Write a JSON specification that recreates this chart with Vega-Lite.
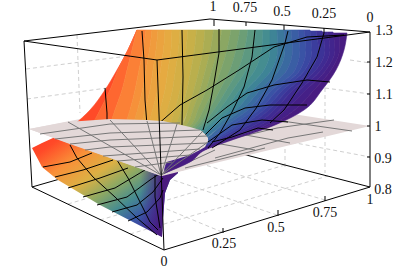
{"$schema":"https://vega.github.io/schema/vega-lite/v6.json","width":417,"height":271,"padding":0,"autosize":"none","background":"white","view":{"stroke":null},
"encoding":{"x":{"field":"x","type":"quantitative","scale":{"domain":[0,417],"nice":false,"zero":false},"axis":null},"y":{"field":"y","type":"quantitative","scale":{"domain":[271,0],"nice":false,"zero":false},"axis":null}},
"datasets":{
"grid":[{"id":1,"x":26,"y":69},{"id":1,"x":120,"y":57},{"id":2,"x":27,"y":99},{"id":2,"x":107,"y":88},{"id":3,"x":77,"y":35},{"id":3,"x":80,"y":113},{"id":4,"x":350,"y":60},{"id":4,"x":370,"y":63},{"id":5,"x":325,"y":88},{"id":5,"x":370,"y":94},{"id":6,"x":325,"y":88},{"id":6,"x":325,"y":120},{"id":7,"x":285,"y":141},{"id":7,"x":370,"y":157},{"id":8,"x":325,"y":135},{"id":8,"x":325,"y":173},{"id":9,"x":285,"y":142},{"id":9,"x":285,"y":167},{"id":10,"x":222,"y":232},{"id":10,"x":80,"y":173},{"id":11,"x":277,"y":215},{"id":11,"x":120,"y":162},{"id":12,"x":325,"y":200},{"id":12,"x":157,"y":151},{"id":13,"x":130,"y":234},{"id":13,"x":328,"y":176},{"id":14,"x":100,"y":220},{"id":14,"x":285,"y":165},{"id":15,"x":68,"y":204},{"id":15,"x":240,"y":153}],
"back":[{"id":1,"x":24,"y":41},{"id":1,"x":210,"y":19},{"id":1,"x":370,"y":32},{"id":2,"x":24,"y":41},{"id":2,"x":32,"y":187},{"id":3,"x":32,"y":187},{"id":3,"x":192,"y":141},{"id":3,"x":370,"y":187},{"id":4,"x":370,"y":32},{"id":4,"x":370,"y":187}],
"front":[{"id":1,"x":24,"y":41},{"id":1,"x":157,"y":60},{"id":1,"x":370,"y":32},{"id":2,"x":157,"y":60},{"id":2,"x":164,"y":250},{"id":3,"x":32,"y":187},{"id":3,"x":164,"y":250},{"id":3,"x":370,"y":187},{"id":4,"x":214,"y":20},{"id":4,"x":214,"y":26},{"id":5,"x":246,"y":22},{"id":5,"x":246,"y":26},{"id":6,"x":284,"y":25},{"id":6,"x":284,"y":30},{"id":7,"x":324,"y":28},{"id":7,"x":324,"y":33},{"id":8,"x":367,"y":62},{"id":8,"x":370,"y":62},{"id":9,"x":367,"y":94},{"id":9,"x":370,"y":94},{"id":10,"x":367,"y":126},{"id":10,"x":370,"y":126},{"id":11,"x":367,"y":157},{"id":11,"x":370,"y":157},{"id":12,"x":325,"y":196},{"id":12,"x":325,"y":201},{"id":13,"x":278,"y":210},{"id":13,"x":278,"y":216},{"id":14,"x":223,"y":228},{"id":14,"x":223,"y":233}],
"lowerMesh":[{"id":1,"x":70,"y":145},{"id":1,"x":77,"y":158},{"id":1,"x":93,"y":177},{"id":1,"x":115,"y":197},{"id":1,"x":137,"y":218},{"id":1,"x":157,"y":235},{"id":2,"x":117,"y":160},{"id":2,"x":128,"y":178},{"id":2,"x":140,"y":202},{"id":2,"x":150,"y":222},{"id":2,"x":158,"y":230},{"id":3,"x":155,"y":175},{"id":3,"x":155,"y":197},{"id":3,"x":158,"y":215},{"id":3,"x":160,"y":228},{"id":4,"x":43,"y":167},{"id":4,"x":70,"y":162},{"id":4,"x":92,"y":153},{"id":5,"x":55,"y":177},{"id":5,"x":83,"y":170},{"id":5,"x":113,"y":160},{"id":6,"x":68,"y":188},{"id":6,"x":100,"y":178},{"id":6,"x":128,"y":168},{"id":7,"x":83,"y":197},{"id":7,"x":115,"y":188},{"id":7,"x":145,"y":170},{"id":8,"x":97,"y":205},{"id":8,"x":127,"y":197},{"id":8,"x":150,"y":180},{"id":8,"x":162,"y":172},{"id":9,"x":112,"y":212},{"id":9,"x":137,"y":205},{"id":9,"x":153,"y":192},{"id":9,"x":163,"y":178},{"id":10,"x":128,"y":221},{"id":10,"x":147,"y":212},{"id":10,"x":160,"y":198},{"id":10,"x":163,"y":190}],
"farMesh":[{"id":1,"x":205,"y":145},{"id":1,"x":277,"y":128},{"id":1,"x":334,"y":120},{"id":2,"x":215,"y":158},{"id":2,"x":288,"y":138},{"id":2,"x":323,"y":132},{"id":3,"x":185,"y":168},{"id":3,"x":265,"y":148},{"id":4,"x":275,"y":120},{"id":4,"x":352,"y":131},{"id":5,"x":240,"y":134},{"id":5,"x":290,"y":143},{"id":6,"x":215,"y":143},{"id":6,"x":255,"y":150},{"id":7,"x":161,"y":175},{"id":7,"x":215,"y":150}],
"upperMesh":[{"id":1,"x":105,"y":88},{"id":1,"x":107,"y":113},{"id":1,"x":107,"y":125},{"id":2,"x":142,"y":31},{"id":2,"x":144,"y":60},{"id":2,"x":145,"y":100},{"id":2,"x":147,"y":125},{"id":4,"x":182,"y":30},{"id":4,"x":183,"y":77},{"id":4,"x":182,"y":125},{"id":5,"x":219,"y":29},{"id":5,"x":219,"y":53},{"id":5,"x":214,"y":83},{"id":5,"x":209,"y":110},{"id":5,"x":203,"y":130},{"id":6,"x":255,"y":30},{"id":6,"x":252,"y":57},{"id":6,"x":244,"y":87},{"id":6,"x":232,"y":112},{"id":6,"x":220,"y":133},{"id":6,"x":208,"y":148},{"id":7,"x":288,"y":31},{"id":7,"x":285,"y":43},{"id":7,"x":272,"y":80},{"id":7,"x":257,"y":107},{"id":7,"x":240,"y":130},{"id":7,"x":212,"y":148},{"id":8,"x":324,"y":33},{"id":8,"x":317,"y":57},{"id":8,"x":302,"y":83},{"id":8,"x":284,"y":110},{"id":8,"x":270,"y":123},{"id":9,"x":157,"y":125},{"id":9,"x":180,"y":105},{"id":9,"x":207,"y":90},{"id":9,"x":239,"y":70},{"id":9,"x":274,"y":47},{"id":9,"x":307,"y":37},{"id":9,"x":344,"y":35},{"id":10,"x":207,"y":123},{"id":10,"x":227,"y":107},{"id":10,"x":247,"y":93},{"id":10,"x":274,"y":85},{"id":10,"x":307,"y":80},{"id":10,"x":330,"y":82},{"id":11,"x":205,"y":135},{"id":11,"x":222,"y":118},{"id":11,"x":245,"y":108},{"id":11,"x":270,"y":105},{"id":11,"x":307,"y":105},{"id":12,"x":208,"y":142},{"id":12,"x":232,"y":125},{"id":12,"x":262,"y":120},{"id":12,"x":288,"y":122},{"id":13,"x":212,"y":142},{"id":13,"x":232,"y":137},{"id":13,"x":258,"y":128},{"id":13,"x":273,"y":130}],
"bowlMesh":[{"id":1,"x":40,"y":134},{"id":1,"x":110,"y":124},{"id":1,"x":180,"y":123},{"id":2,"x":55,"y":139},{"id":2,"x":110,"y":133},{"id":2,"x":200,"y":130},{"id":3,"x":70,"y":144},{"id":3,"x":110,"y":140},{"id":3,"x":207,"y":136},{"id":4,"x":85,"y":150},{"id":4,"x":110,"y":147},{"id":4,"x":207,"y":143},{"id":5,"x":103,"y":156},{"id":5,"x":200,"y":149},{"id":6,"x":118,"y":161},{"id":6,"x":190,"y":155},{"id":7,"x":135,"y":167},{"id":7,"x":172,"y":162},{"id":8,"x":161,"y":175},{"id":8,"x":68,"y":122},{"id":9,"x":161,"y":175},{"id":9,"x":110,"y":120},{"id":10,"x":161,"y":175},{"id":10,"x":147,"y":121},{"id":11,"x":161,"y":175},{"id":11,"x":177,"y":124},{"id":12,"x":161,"y":175},{"id":12,"x":203,"y":131},{"id":13,"x":161,"y":175},{"id":13,"x":208,"y":142}],
"labels":[{"t":"1","x":213,"y":7},{"t":"0.75","x":245,"y":8},{"t":"0.5","x":282,"y":12},{"t":"0.25","x":324,"y":14},{"t":"0","x":370,"y":18},{"t":"1.3","x":384,"y":31},{"t":"1.2","x":384,"y":63},{"t":"1.1","x":384,"y":95},{"t":"1","x":378,"y":127},{"t":"0.9","x":383,"y":159},{"t":"0.8","x":383,"y":190},{"t":"1","x":370,"y":200},{"t":"0.75","x":325,"y":213},{"t":"0.5","x":276,"y":228},{"t":"0.25","x":224,"y":244},{"t":"0","x":164,"y":262}],
"strips":[
{"k":0.5,"y":30,"a":137,"b":137},{"k":0.5,"y":50,"a":128,"b":128},{"k":0.5,"y":70,"a":117,"b":118},{"k":0.5,"y":90,"a":105,"b":110},{"k":0.5,"y":110,"a":90,"b":100},{"k":0.5,"y":125,"a":74,"b":92},
{"k":1.5,"y":30,"a":137,"b":137},{"k":1.5,"y":50,"a":128,"b":132},{"k":1.5,"y":70,"a":118,"b":127},{"k":1.5,"y":90,"a":110,"b":122},{"k":1.5,"y":110,"a":100,"b":115},{"k":1.5,"y":125,"a":92,"b":110},
{"k":2.5,"y":30,"a":137,"b":146},{"k":2.5,"y":50,"a":132,"b":143},{"k":2.5,"y":70,"a":127,"b":139},{"k":2.5,"y":90,"a":122,"b":135},{"k":2.5,"y":110,"a":115,"b":130},{"k":2.5,"y":125,"a":110,"b":125},
{"k":3.25,"y":30,"a":146,"b":152},{"k":3.25,"y":50,"a":143,"b":149.5},{"k":3.25,"y":70,"a":139,"b":146},{"k":3.25,"y":90,"a":135,"b":142.5},{"k":3.25,"y":110,"a":130,"b":137.5},{"k":3.25,"y":125,"a":125,"b":133},
{"k":3.75,"y":30,"a":152,"b":158},{"k":3.75,"y":50,"a":149.5,"b":156},{"k":3.75,"y":70,"a":146,"b":153},{"k":3.75,"y":90,"a":142.5,"b":150},{"k":3.75,"y":110,"a":137.5,"b":145},{"k":3.75,"y":125,"a":133,"b":141},
{"k":4.25,"y":30,"a":158,"b":165},{"k":4.25,"y":50,"a":156,"b":163.5},{"k":4.25,"y":70,"a":153,"b":160.5},{"k":4.25,"y":90,"a":150,"b":157.5},{"k":4.25,"y":110,"a":145,"b":152.5},{"k":4.25,"y":125,"a":141,"b":148.5},
{"k":4.75,"y":30,"a":165,"b":172},{"k":4.75,"y":50,"a":163.5,"b":171},{"k":4.75,"y":70,"a":160.5,"b":168},{"k":4.75,"y":90,"a":157.5,"b":165},{"k":4.75,"y":110,"a":152.5,"b":160},{"k":4.75,"y":125,"a":148.5,"b":156},
{"k":5.25,"y":30,"a":172,"b":180},{"k":5.25,"y":50,"a":171,"b":178.5},{"k":5.25,"y":70,"a":168,"b":175.5},{"k":5.25,"y":90,"a":165,"b":172.5},{"k":5.25,"y":110,"a":160,"b":167.5},{"k":5.25,"y":125,"a":156,"b":163},
{"k":5.75,"y":30,"a":180,"b":188},{"k":5.75,"y":50,"a":178.5,"b":186},{"k":5.75,"y":70,"a":175.5,"b":183},{"k":5.75,"y":90,"a":172.5,"b":180},{"k":5.75,"y":110,"a":167.5,"b":175},{"k":5.75,"y":125,"a":163,"b":170},
{"k":6.25,"y":30,"a":188,"b":196.5},{"k":6.25,"y":50,"a":186,"b":194.5},{"k":6.25,"y":70,"a":183,"b":191},{"k":6.25,"y":90,"a":180,"b":187},{"k":6.25,"y":110,"a":175,"b":181.5},{"k":6.25,"y":125,"a":170,"b":176},
{"k":6.75,"y":30,"a":196.5,"b":205},{"k":6.75,"y":50,"a":194.5,"b":203},{"k":6.75,"y":70,"a":191,"b":199},{"k":6.75,"y":90,"a":187,"b":194},{"k":6.75,"y":110,"a":181.5,"b":188},{"k":6.75,"y":125,"a":176,"b":182},
{"k":7.25,"y":30,"a":205,"b":213.5},{"k":7.25,"y":50,"a":203,"b":210.5},{"k":7.25,"y":70,"a":199,"b":205.5},{"k":7.25,"y":90,"a":194,"b":200},{"k":7.25,"y":110,"a":188,"b":193},{"k":7.25,"y":125,"a":182,"b":186.5},{"k":7.25,"y":140,"a":165,"b":167.5},
{"k":7.75,"y":30,"a":213.5,"b":222},{"k":7.75,"y":50,"a":210.5,"b":218},{"k":7.75,"y":70,"a":205.5,"b":212},{"k":7.75,"y":90,"a":200,"b":206},{"k":7.75,"y":110,"a":193,"b":198},{"k":7.75,"y":125,"a":186.5,"b":191},{"k":7.75,"y":140,"a":167.5,"b":170},
{"k":8.25,"y":30,"a":222,"b":231},{"k":8.25,"y":50,"a":218,"b":227},{"k":8.25,"y":70,"a":212,"b":221},{"k":8.25,"y":90,"a":206,"b":213},{"k":8.25,"y":110,"a":198,"b":203.5},{"k":8.25,"y":125,"a":191,"b":194.5},{"k":8.25,"y":140,"a":170,"b":174},
{"k":8.75,"y":30,"a":231,"b":240},{"k":8.75,"y":50,"a":227,"b":236},{"k":8.75,"y":70,"a":221,"b":230},{"k":8.75,"y":90,"a":213,"b":220},{"k":8.75,"y":110,"a":203.5,"b":209},{"k":8.75,"y":125,"a":194.5,"b":198},{"k":8.75,"y":140,"a":174,"b":178},
{"k":9.25,"y":30,"a":240,"b":248},{"k":9.25,"y":50,"a":236,"b":244.5},{"k":9.25,"y":70,"a":230,"b":238},{"k":9.25,"y":90,"a":220,"b":226.5},{"k":9.25,"y":110,"a":209,"b":214},{"k":9.25,"y":125,"a":198,"b":201.5},{"k":9.25,"y":140,"a":178,"b":182},
{"k":9.75,"y":30,"a":248,"b":256},{"k":9.75,"y":50,"a":244.5,"b":253},{"k":9.75,"y":70,"a":238,"b":246},{"k":9.75,"y":90,"a":226.5,"b":233},{"k":9.75,"y":110,"a":214,"b":219},{"k":9.75,"y":125,"a":201.5,"b":205},{"k":9.75,"y":140,"a":182,"b":186},
{"k":10.25,"y":30,"a":256,"b":263},{"k":10.25,"y":50,"a":253,"b":261.5},{"k":10.25,"y":70,"a":246,"b":255},{"k":10.25,"y":90,"a":233,"b":239.5},{"k":10.25,"y":110,"a":219,"b":224.5},{"k":10.25,"y":125,"a":205,"b":208.5},{"k":10.25,"y":140,"a":186,"b":190.5},
{"k":10.75,"y":30,"a":263,"b":270},{"k":10.75,"y":50,"a":261.5,"b":270},{"k":10.75,"y":70,"a":255,"b":264},{"k":10.75,"y":90,"a":239.5,"b":246},{"k":10.75,"y":110,"a":224.5,"b":230},{"k":10.75,"y":125,"a":208.5,"b":212},{"k":10.75,"y":140,"a":190.5,"b":195},
{"k":11.25,"y":30,"a":270,"b":277},{"k":11.25,"y":50,"a":270,"b":277.5},{"k":11.25,"y":70,"a":264,"b":271.5},{"k":11.25,"y":90,"a":246,"b":253},{"k":11.25,"y":110,"a":230,"b":236},{"k":11.25,"y":125,"a":212,"b":217},{"k":11.25,"y":140,"a":195,"b":199.5},
{"k":11.75,"y":30,"a":277,"b":284},{"k":11.75,"y":50,"a":277.5,"b":285},{"k":11.75,"y":70,"a":271.5,"b":279},{"k":11.75,"y":90,"a":253,"b":260},{"k":11.75,"y":110,"a":236,"b":242},{"k":11.75,"y":125,"a":217,"b":222},{"k":11.75,"y":140,"a":199.5,"b":204},
{"k":12.25,"y":30,"a":284,"b":291},{"k":12.25,"y":50,"a":285,"b":292.5},{"k":12.25,"y":70,"a":279,"b":287},{"k":12.25,"y":90,"a":260,"b":266},{"k":12.25,"y":110,"a":242,"b":248},{"k":12.25,"y":125,"a":222,"b":227},{"k":12.25,"y":140,"a":204,"b":207},{"k":12.25,"y":150,"a":186,"b":189},
{"k":12.75,"y":30,"a":291,"b":298},{"k":12.75,"y":50,"a":292.5,"b":300},{"k":12.75,"y":70,"a":287,"b":295},{"k":12.75,"y":90,"a":266,"b":272},{"k":12.75,"y":110,"a":248,"b":254},{"k":12.75,"y":125,"a":227,"b":232},{"k":12.75,"y":140,"a":207,"b":210},{"k":12.75,"y":150,"a":189,"b":192},
{"k":13.25,"y":30,"a":298,"b":304},{"k":13.25,"y":50,"a":300,"b":306},{"k":13.25,"y":70,"a":295,"b":300},{"k":13.25,"y":90,"a":272,"b":277.5},{"k":13.25,"y":110,"a":254,"b":259},{"k":13.25,"y":125,"a":232,"b":237.5},{"k":13.25,"y":140,"a":210,"b":213},{"k":13.25,"y":150,"a":192,"b":194},
{"k":13.75,"y":30,"a":304,"b":310},{"k":13.75,"y":50,"a":306,"b":312},{"k":13.75,"y":70,"a":300,"b":305},{"k":13.75,"y":90,"a":277.5,"b":283},{"k":13.75,"y":110,"a":259,"b":264},{"k":13.75,"y":125,"a":237.5,"b":243},{"k":13.75,"y":140,"a":213,"b":216},{"k":13.75,"y":150,"a":194,"b":196},
{"k":14.25,"y":31,"a":310,"b":316},{"k":14.25,"y":50,"a":312,"b":318.5},{"k":14.25,"y":70,"a":305,"b":310.5},{"k":14.25,"y":90,"a":283,"b":288},{"k":14.25,"y":110,"a":264,"b":269},{"k":14.25,"y":125,"a":243,"b":249},{"k":14.25,"y":140,"a":216,"b":218.5},{"k":14.25,"y":150,"a":196,"b":197.5},
{"k":14.75,"y":31,"a":316,"b":322},{"k":14.75,"y":50,"a":318.5,"b":325},{"k":14.75,"y":70,"a":310.5,"b":316},{"k":14.75,"y":90,"a":288,"b":293},{"k":14.75,"y":110,"a":269,"b":274},{"k":14.75,"y":125,"a":249,"b":255},{"k":14.75,"y":140,"a":218.5,"b":221},{"k":14.75,"y":150,"a":197.5,"b":199},
{"k":15.25,"y":32,"a":322,"b":327.5},{"k":15.25,"y":50,"a":325,"b":330},{"k":15.25,"y":70,"a":316,"b":321},{"k":15.25,"y":90,"a":293,"b":299.5},{"k":15.25,"y":110,"a":274,"b":279.5},{"k":15.25,"y":125,"a":255,"b":260.5},{"k":15.25,"y":140,"a":221,"b":223.5},{"k":15.25,"y":150,"a":199,"b":200.5},
{"k":15.75,"y":32,"a":327.5,"b":333},{"k":15.75,"y":50,"a":330,"b":335},{"k":15.75,"y":70,"a":321,"b":326},{"k":15.75,"y":90,"a":299.5,"b":306},{"k":15.75,"y":110,"a":279.5,"b":285},{"k":15.75,"y":125,"a":260.5,"b":266},{"k":15.75,"y":140,"a":223.5,"b":226},{"k":15.75,"y":150,"a":200.5,"b":202},
{"k":16.25,"y":33,"a":333,"b":340},{"k":16.25,"y":50,"a":335,"b":339.5},{"k":16.25,"y":70,"a":326,"b":331},{"k":16.25,"y":90,"a":306,"b":314},{"k":16.25,"y":110,"a":285,"b":294.5},{"k":16.25,"y":125,"a":266,"b":270.5},{"k":16.25,"y":140,"a":226,"b":229},{"k":16.25,"y":150,"a":196,"b":203.5},{"k":16.25,"y":162,"a":167,"b":178},{"k":16.25,"y":173,"a":164,"b":164.5},
{"k":16.75,"y":33,"a":340,"b":347},{"k":16.75,"y":50,"a":339.5,"b":344},{"k":16.75,"y":70,"a":331,"b":336},{"k":16.75,"y":90,"a":314,"b":322},{"k":16.75,"y":110,"a":294.5,"b":304},{"k":16.75,"y":125,"a":270.5,"b":275},{"k":16.75,"y":140,"a":229,"b":232},{"k":16.75,"y":150,"a":203.5,"b":205},{"k":16.75,"y":162,"a":178,"b":190},{"k":16.75,"y":173,"a":164.5,"b":165}
]},
"layer":[
{"data":{"name":"grid"},"mark":{"type":"line","color":"#cfcfcf","strokeWidth":1,"strokeDash":[4,3]},"encoding":{"detail":{"field":"id"},"order":{"value":null}}},
{"data":{"name":"back"},"mark":{"type":"line","color":"#000","strokeWidth":1},"encoding":{"detail":{"field":"id"},"order":{"value":null}}},
{"data":{"values":[{"x":32,"y":148,"y2":148},{"x":42,"y":143,"y2":167},{"x":53,"y":138,"y2":176},{"x":58,"y":138,"y2":180},{"x":100,"y":150,"y2":205},{"x":133,"y":160,"y2":222},{"x":162,"y":170,"y2":237},{"x":163,"y":170,"y2":218},{"x":165,"y":170,"y2":193},{"x":170,"y":170,"y2":180},{"x":178,"y":172,"y2":173}]},
"mark":{"type":"area","orient":"vertical","color":{"gradient":"linear","x1":0,"y1":0,"x2":1,"y2":1,"stops":[{"offset":0,"color":"#ff3a24"},{"offset":0.1,"color":"#ff4a28"},{"offset":0.25,"color":"#f99038"},{"offset":0.4,"color":"#dcb044"},{"offset":0.52,"color":"#8fa962"},{"offset":0.65,"color":"#468c90"},{"offset":0.76,"color":"#3a58a6"},{"offset":0.87,"color":"#3d2e94"},{"offset":0.97,"color":"#4e1a80"},{"offset":1,"color":"#4e1a80"}]}},"encoding":{"y2":{"field":"y2"}}},
{"data":{"values":[{"x":140,"y":160,"y2":225},{"x":162,"y":170,"y2":237},{"x":163,"y":170,"y2":218},{"x":165,"y":170,"y2":193},{"x":170,"y":170,"y2":180},{"x":178,"y":172,"y2":173}]},
"mark":{"type":"area","orient":"vertical","color":{"gradient":"linear","x1":0,"y1":0,"x2":1,"y2":0,"stops":[{"offset":0,"color":"rgba(74,26,126,0)"},{"offset":0.4,"color":"rgba(74,26,126,0.6)"},{"offset":0.6,"color":"rgba(74,26,126,1)"},{"offset":1,"color":"rgba(74,26,126,1)"}]}},"encoding":{"y2":{"field":"y2"}}},
{"data":{"name":"lowerMesh"},"mark":{"type":"line","color":"#000","strokeWidth":1},"encoding":{"detail":{"field":"id"},"order":{"value":null}}},
{"data":{"values":[{"x":29,"y":129,"y2":129},{"x":162,"y":103,"y2":176},{"x":190,"y":98,"y2":169},{"x":370,"y":126,"y2":126}]},"mark":{"type":"area","orient":"vertical","color":"#e3d8d8"},"encoding":{"y2":{"field":"y2"}}},
{"data":{"name":"farMesh"},"mark":{"type":"line","color":"#777","strokeWidth":1},"encoding":{"detail":{"field":"id"},"order":{"value":null}}},
{"data":{"name":"strips"},"mark":{"type":"area","orient":"horizontal","interpolate":"monotone","strokeWidth":0.6},"encoding":{"x":{"field":"a","type":"quantitative"},"x2":{"field":"b"},"y":{"field":"y","type":"quantitative"},"detail":{"field":"k"},
"color":{"field":"k","type":"quantitative","legend":null,"scale":{"interpolate":"rgb","domain":[0,1,2,3,4,5,6,7,8,9,10,11,12,13,14,15,16,17],"range":["#ff3a24","#ff5a2c","#fc7433","#f98c38","#eda03e","#e3ad42","#cfb046","#b3ae4f","#93a95f","#74a170","#559686","#3f8a93","#3a709e","#3a58a6","#3a42a0","#3d2e94","#43228a","#4a1a7e"]}},
"stroke":{"field":"k","type":"quantitative","legend":null,"scale":{"interpolate":"rgb","domain":[0,1,2,3,4,5,6,7,8,9,10,11,12,13,14,15,16,17],"range":["#ff3a24","#ff5a2c","#fc7433","#f98c38","#eda03e","#e3ad42","#cfb046","#b3ae4f","#93a95f","#74a170","#559686","#3f8a93","#3a709e","#3a58a6","#3a42a0","#3d2e94","#43228a","#4a1a7e"]}}}},
{"data":{"name":"upperMesh"},"mark":{"type":"line","color":"#000","strokeWidth":1},"encoding":{"detail":{"field":"id"},"order":{"value":null}}},
{"data":{"values":[{"x":29,"y":129,"y2":129},{"x":67,"y":122,"y2":143},{"x":110,"y":119,"y2":158},{"x":147,"y":120,"y2":171},{"x":161,"y":121,"y2":176},{"x":163,"y":121,"y2":163},{"x":177,"y":124,"y2":159},{"x":190,"y":127,"y2":155},{"x":200,"y":130,"y2":150},{"x":205,"y":134,"y2":147},{"x":208,"y":138,"y2":141}]},"mark":{"type":"area","orient":"vertical","color":"#e3d8d8"},"encoding":{"y2":{"field":"y2"}}},
{"data":{"name":"bowlMesh"},"mark":{"type":"line","color":"#777","strokeWidth":1},"encoding":{"detail":{"field":"id"},"order":{"value":null}}},
{"data":{"name":"front"},"mark":{"type":"line","color":"#000","strokeWidth":1},"encoding":{"detail":{"field":"id"},"order":{"value":null}}},
{"data":{"name":"labels"},"mark":{"type":"text","font":"Liberation Serif","fontSize":14,"fill":"#111","align":"center","baseline":"middle"},"encoding":{"text":{"field":"t"}}}
]}
